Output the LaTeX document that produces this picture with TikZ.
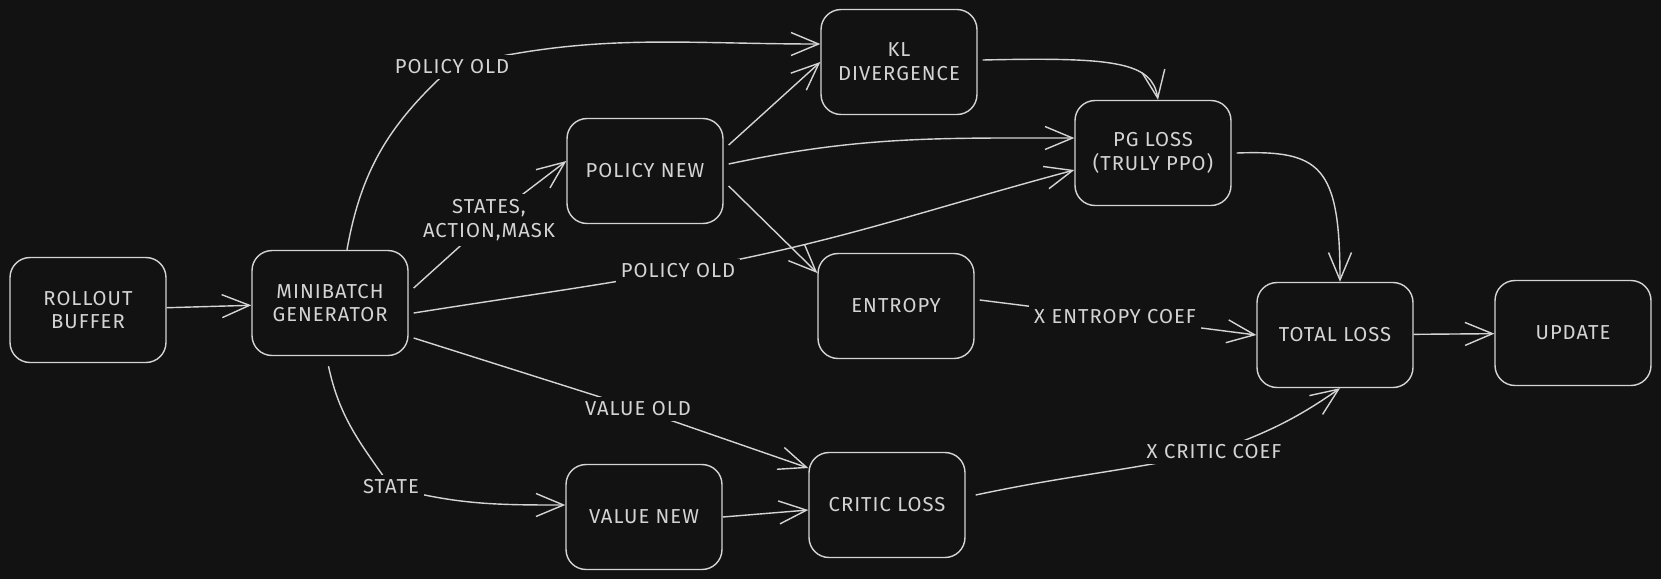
\documentclass[tikz,border=0pt]{standalone}
\usepackage{fontspec}
\setmainfont{Fira Sans}[LetterSpace=5]
\usetikzlibrary{arrows.meta}
\definecolor{bg}{HTML}{121212}
\definecolor{ink}{HTML}{D4D4D4}

\begin{document}
\begin{tikzpicture}[
                    % GLOBAL CFG (one unit = one pixel, y grows downwards)
                    x=0.02cm, y=-0.02cm,
                    font=\fontsize{11.5}{13.5}\selectfont,
                    >={Straight Barb[length=5.5mm,width=4.6mm]},
                    % Styles
                    box/.style={% For the blocks
                            rectangle,
                            rounded corners=4mm,
                            draw=ink,
                            line width=.8pt,
                            text=ink,
                            align=center,
                            minimum width=3.12cm,
                            minimum height=2.1cm,
                            inner sep=2pt,
                        },
                    lbl/.style={% For the texts sitting on a connector
                            fill=bg,
                            text=ink,
                            align=center,
                            inner sep=3pt,
                        },
                    link/.style={% Connectors
                            draw=ink,
                            line width=.8pt,
                            ->,
                        },
                ]

                % Background and margins
                \useasboundingbox[fill=bg] (0,0) rectangle (1661,579);

                % Draw the blocks
                \node [box] (rollout) at (88,310) {ROLLOUT\\BUFFER};
                \node [box] (minibatch) at (330,303) {MINIBATCH\\GENERATOR};
                \node [box] (polnew) at (645,171) {POLICY NEW};
                \node [box] (kl) at (899,62) {KL\\DIVERGENCE};
                \node [box] (pgloss) at (1153,153) {PG LOSS\\(TRULY PPO)};
                \node [box] (entropy) at (896,306) {ENTROPY};
                \node [box] (total) at (1335,335) {TOTAL LOSS};
                \node [box] (update) at (1573,333) {UPDATE};
                \node [box] (valnew) at (644,517) {VALUE NEW};
                \node [box] (critic) at (887,505) {CRITIC LOSS};

                % Where the connector labels sit
                \coordinate (lpo1) at (452,67);
                \coordinate (lsam) at (489,220);
                \coordinate (lpo2) at (678,271);
                \coordinate (lvo) at (638,409);
                \coordinate (lst) at (391,487);
                \coordinate (lec) at (1115,317);
                \coordinate (lcc) at (1214,452);

                % Connectors from the minibatch generator
                \draw [link] (rollout) -- (minibatch);
                \draw [link] ([xshift=3.4mm]minibatch.north) to[out=80,in=-138] (lpo1)
                             to[out=14,in=180] ([yshift=3.6mm]kl.west);
                \draw [link] ([xshift=1mm,yshift=3mm]minibatch.east) -- (lsam)
                             -- ([yshift=2mm]polnew.west);
                \draw [link] ([xshift=1mm,yshift=-2mm]minibatch.east) to[out=9,in=190] (lpo2)
                             to[out=10,in=195] ([yshift=-3.4mm]pgloss.west);
                \draw [link] ([xshift=1mm,yshift=-7mm]minibatch.east) -- (lvo)
                             -- ([yshift=7.4mm]critic.west);
                \draw [link] ([xshift=-0.3mm,yshift=-2mm]minibatch.south) to[out=-78,in=125] (lst)
                             to[out=-15,in=180] ([yshift=2.4mm]valnew.west);

                % Policy side
                \draw [link] ([xshift=1mm,yshift=5.2mm]polnew.east) -- (kl.west);
                \draw [link] ([xshift=1mm,yshift=1.4mm]polnew.east) to[out=12,in=180]
                             ([yshift=3mm]pgloss.west);
                \draw [link] ([xshift=1mm,yshift=-3mm]polnew.east) -- ([yshift=6.6mm]entropy.west);
                \draw [link] ([xshift=1mm,yshift=0.4mm]kl.east) .. controls (1115,57) and (1152,62) ..
                             ([xshift=1mm]pgloss.north);
                \draw [link] ([xshift=1mm]pgloss.east) .. controls (1320,150) and (1340,165) ..
                             ([xshift=1mm]total.north);

                % Losses
                \draw [link] ([xshift=1mm,yshift=1.2mm]entropy.east) -- (lec) -- (total.west);
                \draw [link] (valnew.east) -- ([yshift=-1mm]critic.west);
                \draw [link] ([xshift=2mm,yshift=2mm]critic.east) to[out=12,in=192] (lcc)
                             to[out=20,in=-145] ([xshift=1mm]total.south);
                \draw [link] (total) -- (update);

                % Labels on top of the connectors
                \node [lbl] (tpo1) at (lpo1) {POLICY OLD};
                \node [lbl] (tsam) at (lsam) {STATES,\\ACTION,MASK};
                \node [lbl] (tpo2) at (lpo2) {POLICY OLD};
                \node [lbl] (tvo) at (lvo) {VALUE OLD};
                \node [lbl] (tst) at (lst) {STATE};
                \node [lbl] (tec) at (lec) {X ENTROPY COEF};
                \node [lbl] (tcc) at (lcc) {X CRITIC COEF};

            \end{tikzpicture}
\end{document}
